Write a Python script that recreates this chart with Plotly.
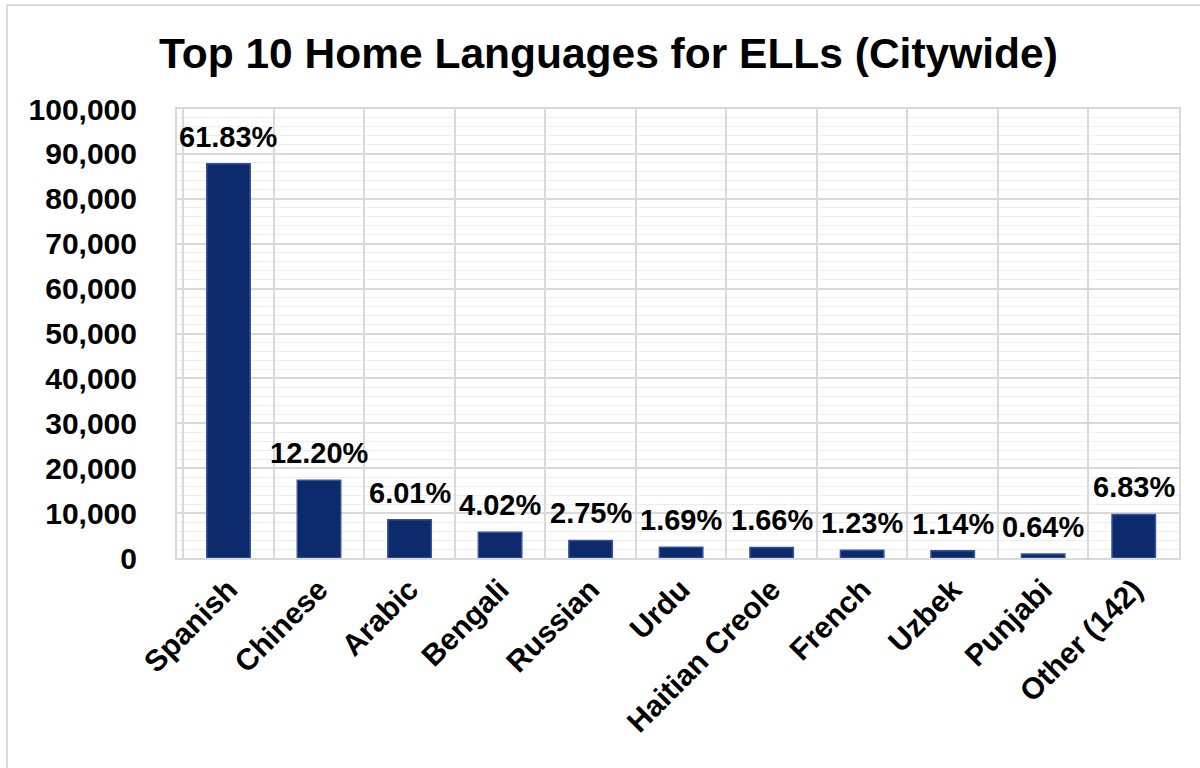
import plotly.graph_objects as go

# Top home languages of English Language Learners, citywide
languages = ["Spanish", "Chinese", "Arabic", "Bengali", "Russian", "Urdu",
             "Haitian Creole", "French", "Uzbek", "Punjabi", "Other (142)"]
students = [87800, 17330, 8530, 5710, 3900, 2400, 2360, 1750, 1620, 910, 9700]
share_labels = ["61.83%", "12.20%", "6.01%", "4.02%", "2.75%", "1.69%",
                "1.66%", "1.23%", "1.14%", "0.64%", "6.83%"]
y_ticks = list(range(0, 100001, 10000))
y_tick_text = [f"{v:,}" for v in y_ticks]

FONT = "Liberation Sans, Arial, sans-serif"
NAVY = "#0c2a6c"

fig = go.Figure(
    go.Bar(
        x=languages,
        y=students,
        cliponaxis=False,
        width=0.48,
        marker=dict(color=NAVY, line=dict(color="#35559a", width=1.5)),
        hoverinfo="x+y",
    )
)

# percentage share written above each bar
for lang, val, lab in zip(languages, students, share_labels):
    fig.add_annotation(
        x=lang, y=val, text=f"<b>{lab}</b>",
        showarrow=False, yanchor="bottom", yshift=9,
        font=dict(family=FONT, size=29, color="#000000"),
    )

fig.update_layout(
    width=1200,
    height=768,
    margin=dict(l=177, r=21, t=109, b=210),
    paper_bgcolor="#ffffff",
    plot_bgcolor="#ffffff",
    showlegend=False,
    font=dict(family=FONT, size=24, color="#000000"),
    title=dict(
        text="<b>Top 10 Home Languages for ELLs (Citywide)</b>",
        x=0.507, xref="container", xanchor="center",
        y=1 - 53 / 768, yref="container", yanchor="middle",
        font=dict(family=FONT, size=42.5, color="#000000"),
    ),
    shapes=[
        dict(type="rect", xref="paper", yref="paper",
             x0=-0.1697, x1=1.03, y0=-0.49, y1=1.2316,
             line=dict(color="#d9d9d9", width=2), fillcolor="rgba(0,0,0,0)",
             layer="below"),
    ],
)

fig.update_xaxes(
    type="category",
    automargin=False,
    tickson="boundaries",
    showgrid=True,
    gridcolor="#d9d9d9",
    gridwidth=1.5,
    tickangle=-45,
    tickfont=dict(family=FONT, size=30, color="#000000", weight="bold"),
    ticks="",
    showline=True,
    linecolor="#d9d9d9",
    linewidth=2,
    mirror=True,
)

fig.update_yaxes(
    range=[0, 100000],
    automargin=False,
    tickvals=y_ticks,
    ticktext=y_tick_text,
    tickfont=dict(family=FONT, size=30, color="#000000", weight="bold"),
    ticklabelstandoff=32,
    showgrid=True,
    gridcolor="#d9d9d9",
    gridwidth=1.5,
    zeroline=False,
    ticks="",
    showline=True,
    linecolor="#d9d9d9",
    linewidth=2,
    mirror=True,
    minor=dict(dtick=2000, showgrid=True, gridcolor="#eeeeee", gridwidth=1),
)

fig.write_html("out.html")
